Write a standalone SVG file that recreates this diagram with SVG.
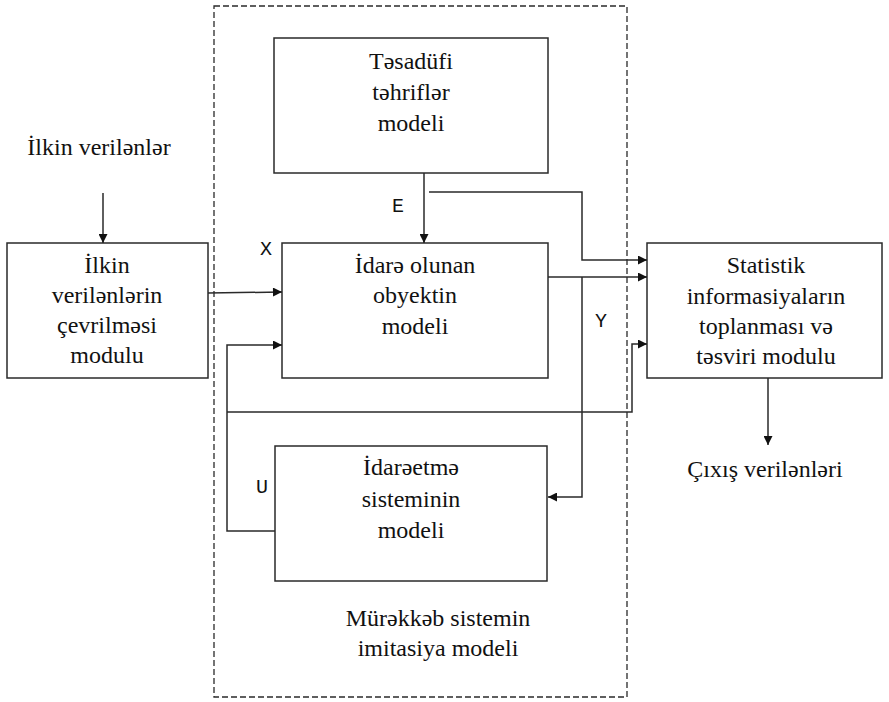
<svg xmlns="http://www.w3.org/2000/svg" width="889" height="702" viewBox="0 0 889 702">
  <style>
    .box { fill: #ffffff; stroke: #2a2a2a; stroke-width: 1.5; }
    .frame { fill: none; stroke: #2a2a2a; stroke-width: 1.3; stroke-dasharray: 6 3; }
    .wire { fill: none; stroke: #2a2a2a; stroke-width: 1.5; }
    .cap { font-family: Liberation Serif, Times New Roman, Times, serif; font-size: 24px; fill: #111; text-anchor: middle; }
    .sig { font-family: Liberation Mono, Courier New, Courier, monospace; font-size: 20px; fill: #111; text-anchor: middle; }
  </style>
  <defs>
    <marker id="arrow" viewBox="0 0 10 10" refX="10" refY="5" markerWidth="11" markerHeight="9" markerUnits="userSpaceOnUse" orient="auto">
      <path d="M0,0 L10,5 L0,10 z" fill="#111"/>
    </marker>
  </defs>

  <rect fill="#ffffff" x="0" y="0" width="889" height="702"/>

  <!-- boundary of the composite simulation model -->
  <g id="simulation-frame">
    <rect class="frame" x="214" y="6" width="413" height="691"/>
    <text class="cap" x="438" y="626">Mürəkkəb sistemin</text>
    <text class="cap" x="438" y="656">imitasiya modeli</text>
  </g>

  <g id="input-label">
    <text class="cap" x="99" y="155">İlkin verilənlər</text>
  </g>

  <g id="input-module">
    <rect class="box" x="7" y="243" width="201" height="135"/>
    <text class="cap" x="107" y="273">İlkin</text>
    <text class="cap" x="107" y="303">verilənlərin</text>
    <text class="cap" x="107" y="333">çevrilməsi</text>
    <text class="cap" x="107" y="363">modulu</text>
  </g>

  <g id="random-distortions">
    <rect class="box" x="274" y="38" width="274" height="135"/>
    <text class="cap" x="411" y="69">Təsadüfi</text>
    <text class="cap" x="411" y="100">təhriflər</text>
    <text class="cap" x="411" y="131">modeli</text>
  </g>

  <g id="controlled-object">
    <rect class="box" x="282" y="243" width="266" height="135"/>
    <text class="cap" x="415" y="273">İdarə olunan</text>
    <text class="cap" x="415" y="303">obyektin</text>
    <text class="cap" x="415" y="334">modeli</text>
  </g>

  <g id="control-system">
    <rect class="box" x="275" y="446" width="272" height="135"/>
    <text class="cap" x="411" y="475">İdarəetmə</text>
    <text class="cap" x="411" y="507">sisteminin</text>
    <text class="cap" x="411" y="538">modeli</text>
  </g>

  <g id="statistics-module">
    <rect class="box" x="647" y="243" width="235" height="135"/>
    <text class="cap" x="766" y="273">Statistik</text>
    <text class="cap" x="766" y="304">informasiyaların</text>
    <text class="cap" x="766" y="334">toplanması və</text>
    <text class="cap" x="766" y="364">təsviri modulu</text>
  </g>

  <g id="output-label">
    <text class="cap" x="765" y="477">Çıxış verilənləri</text>
  </g>

  <g id="connectors">
    <path class="wire" d="M103,193 L103,243" marker-end="url(#arrow)"/>
    <path class="wire" d="M208,293 L282,292" marker-end="url(#arrow)"/>
    <path class="wire" d="M424,173 L424,243" marker-end="url(#arrow)"/>
    <path class="wire" d="M429,192 L582,192 L582,260 L647,260" marker-end="url(#arrow)"/>
    <path class="wire" d="M548,277 L647,277" marker-end="url(#arrow)"/>
    <path class="wire" d="M582,277 L582,497 L548,497" marker-end="url(#arrow)"/>
    <path class="wire" d="M275,531 L227,531 L227,345 L282,345" marker-end="url(#arrow)"/>
    <path class="wire" d="M227,412 L632,412 L632,344 L647,344" marker-end="url(#arrow)"/>
    <path class="wire" d="M768,378 L768,445" marker-end="url(#arrow)"/>
  </g>

  <g id="signal-labels">
    <text class="sig" x="266" y="255">X</text>
    <text class="sig" x="398" y="212">E</text>
    <text class="sig" x="601" y="327">Y</text>
    <text class="sig" x="262" y="493">U</text>
  </g>
</svg>
